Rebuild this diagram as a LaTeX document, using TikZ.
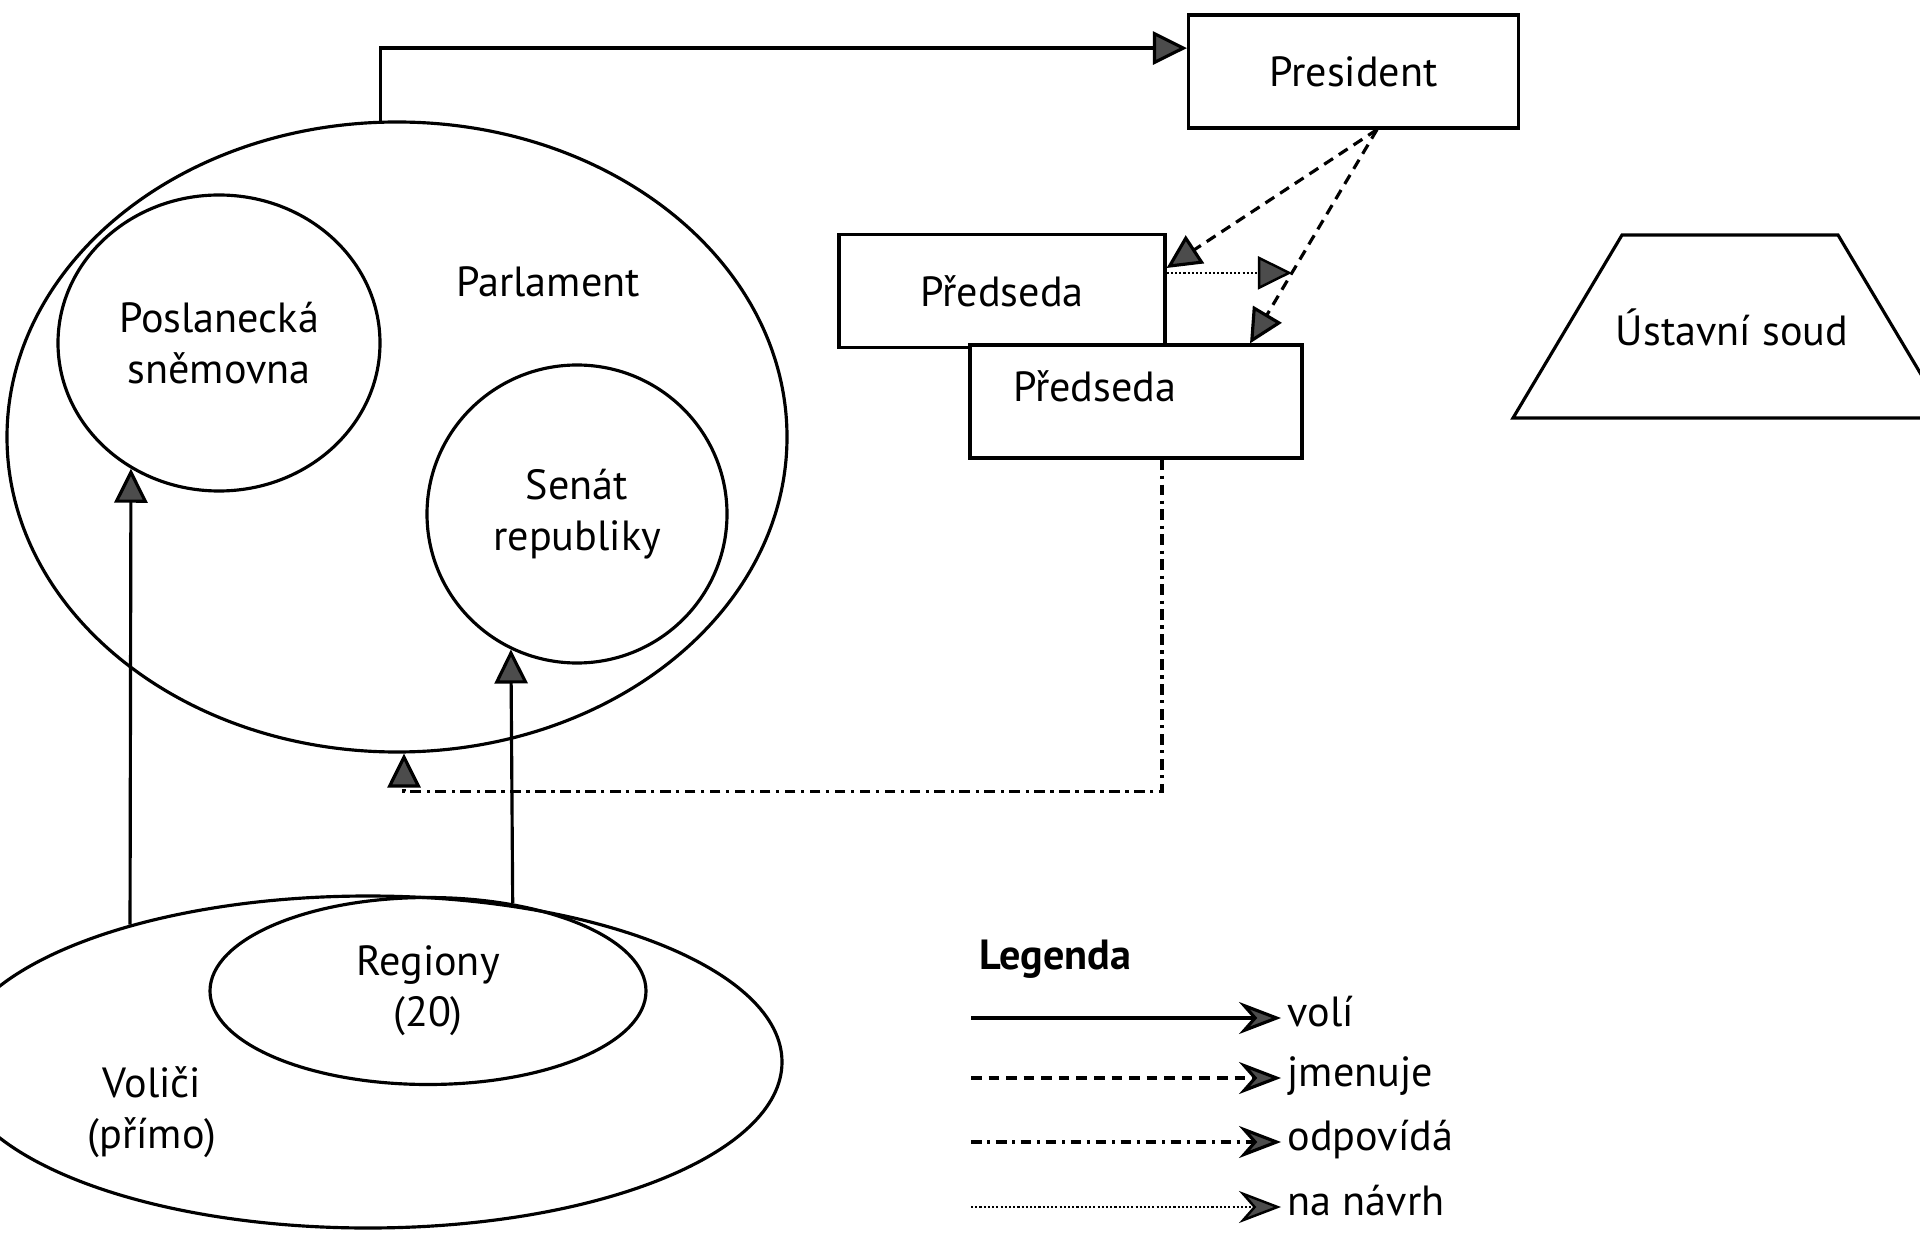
\documentclass[tikz,border=0pt]{standalone}
\usepackage{fontspec}
\setmainfont{PT Sans}
\usetikzlibrary{arrows.meta,shapes.geometric}

\begin{document}
\begin{tikzpicture}[line width=0.9pt,
        >={Triangle[length=3.4mm,width=3.3mm,fill=black!70]},
        every node/.style={font=\fontsize{12}{14.5}\selectfont},
        box/.style={draw,rectangle,fill=white,minimum width=3.3cm,minimum height=1.13cm,inner sep=0pt},
        oval/.style={draw,ellipse,inner sep=0pt,align=center},
        voli/.style={->},
        jmenuje/.style={->,dash pattern=on 3pt off 2pt},
        odpovida/.style={->,dash pattern=on 3pt off 1.6pt on 0.9pt off 1.6pt},
        navrh/.style={->,line width=0.7pt,dash pattern=on 0.6pt off 0.6pt},
        legtip/.style={-{Stealth[length=4.2mm,width=3.2mm,inset=1.4mm,fill=black!70]}},
        leg/.style={anchor=west,inner sep=0.5mm,text height=1.3ex,text depth=0.3ex}]
                \useasboundingbox (0,0) rectangle (19.2,12.32);
                \node[box] (president) at (13.535,11.605) {President};
                \node[box,minimum width=3.26cm] (pred1) at (10.02,9.41) {Předseda};
                \node[box,minimum width=3.32cm,text width=2.46cm,align=left,inner xsep=4.3mm,
                      text height=0.3cm,text depth=0.3cm] (pred2) at (11.36,8.305) {Předseda};
                \draw (16.22,9.97) -- (18.38,9.97) -- (19.47,8.14) -- (15.13,8.14) -- cycle;
                \node (soud) at (17.32,9.05) {Ústavní soud};
                \node[oval,minimum width=7.8cm,minimum height=6.3cm] (parl) at (3.97,7.95) {};
                \node (parltxt) at (5.48,9.50) {Parlament};
                \node[oval,minimum width=3.22cm,minimum height=2.96cm] (posl) at (2.19,8.89) {Poslanecká\\sněmovna};
                \node[oval,minimum width=3.0cm,minimum height=2.98cm] (senat) at (5.77,7.18) {Senát\\republiky};
                \node[oval,minimum width=8.28cm,minimum height=3.32cm] (volici) at (3.68,1.70) {};
                \node[oval,minimum width=4.36cm,minimum height=1.87cm] (regiony) at (4.28,2.41) {Regiony\\(20)};
                \node[align=center] (volicitxt) at (1.52,1.20) {Voliči\\(přímo)};
                \draw[voli] (volici.150) -- (posl.235);
                \draw[voli] (regiony.46) -- (senat.244);
                \draw[voli] (parl.93) |- (president.172);
                \coordinate (pbot) at ([xshift=2.35mm]president.south);
                \draw[jmenuje] (pbot) -- ([yshift=2.3mm]pred1.east);
                \draw[jmenuje] (pbot) -- coordinate[pos=0.67] (navrhpt) ([xshift=11.4mm]pred2.north);
                \draw[navrh] (pred1.east |- navrhpt) -- (navrhpt);
                \draw[odpovida] ([xshift=2.6mm]pred2.south) |- ([xshift=0.7mm,yshift=-3.8mm]parl.south) -- ([xshift=0.7mm]parl.south);
                \node[anchor=west] (legenda) at (9.66,2.73) {\textbf{Legenda}};
                \node[leg] (lvoli) at (12.81,2.14) {volí};
                \node[leg] (ljmenuje) at (12.81,1.54) {jmenuje};
                \node[leg] (lodpovida) at (12.81,0.90) {odpovídá};
                \node[leg] (lnavrh) at (12.81,0.25) {na návrh};
                \coordinate (svoli) at (9.71,2.14);
                \coordinate (sjmenuje) at (9.71,1.54);
                \coordinate (sodpovida) at (9.71,0.90);
                \coordinate (snavrh) at (9.71,0.25);
                \draw[voli,legtip] (svoli) -- (lvoli.west);
                \draw[jmenuje,legtip] (sjmenuje) -- (ljmenuje.west);
                \draw[odpovida,legtip] (sodpovida) -- (lodpovida.west);
                \draw[navrh,legtip] (snavrh) -- (lnavrh.west);
\end{tikzpicture}
\end{document}
